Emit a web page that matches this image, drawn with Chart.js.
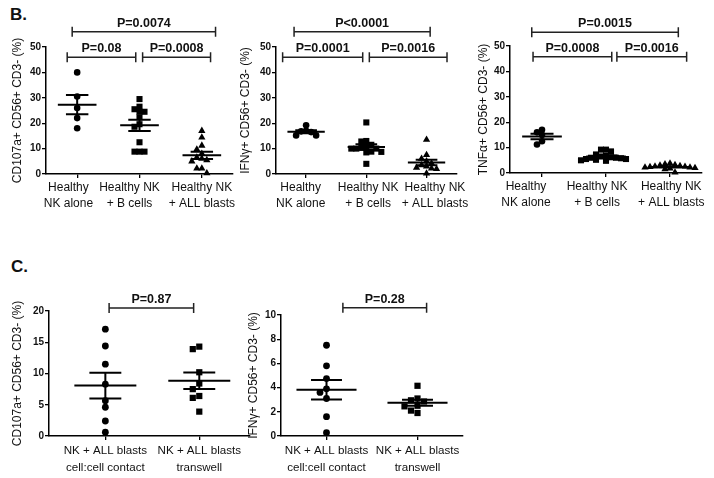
<!DOCTYPE html>
<html>
<head>
<meta charset="utf-8">
<script src="https://cdn.jsdelivr.net/npm/chart.js@4.4.0/dist/chart.umd.min.js"></script>
<style>
  body { margin: 0; background: #fff; }
  #wrap { position: relative; width: 714px; height: 478px; font-family: Arial, "Liberation Sans", sans-serif; }
  canvas { position: absolute; }
  .tag { position: absolute; font-weight: bold; font-size: 17px; color: #111; }
</style>
</head>
<body>
<div id="wrap">
  <div class="tag" style="left:10px;top:5px">B.</div>
  <div class="tag" style="left:11px;top:257px">C.</div>
  <canvas id="b1" width="238" height="215" style="left:0;top:0"></canvas>
  <canvas id="b2" width="236" height="215" style="left:236px;top:0"></canvas>
  <canvas id="b3" width="241" height="215" style="left:473px;top:0"></canvas>
  <canvas id="c1" width="256" height="248" style="left:0;top:230px"></canvas>
  <canvas id="c2" width="230" height="248" style="left:244px;top:230px"></canvas>
</div>
<script>
// categories
const groupsB = [["Healthy", "NK alone"], ["Healthy NK", "+ B cells"], ["Healthy NK", "+ ALL blasts"]];
const groupsC = [["NK + ALL blasts", "cell:cell contact"], ["NK + ALL blasts", "transwell"]];

// panel B, CD107a
const cd107aAlone = [40, 30.5, 26, 22, 18];
const cd107aBcells = [29.5, 24.5, 25.5, 26.5, 24.5, 22.3, 19.6, 18.6, 12.5, 8.8, 8.8, 8.8];
const cd107aBlasts = [17, 14.4, 11.2, 9.7, 8, 6.5, 6, 5.5, 5, 2.2, 2.2, 0.3];
const cd107aP = ["P=0.08", "P=0.0008", "P=0.0074"];

// panel B, IFN-gamma
const ifngAlone = [19.2, 17, 16.8, 16.5, 15.2, 15.2];
const ifngBcells = [20.3, 13, 12.8, 11.5, 10.5, 10, 10, 10, 10.3, 8.7, 8.5, 8.8, 4];
const ifngBlasts = [13.5, 7.5, 6, 5, 4.2, 3.5, 3, 2.5, 2.2, 2, 0.2];
const ifngP = ["P=0.0001", "P=0.0016", "P<0.0001"];

// panel B, TNF-alpha
const tnfaAlone = [16, 17, 15, 12.5, 11.2];
const tnfaBcells = [9.2, 9.2, 8.5, 7.3, 6.8, 6.5, 6.2, 6, 6, 5.8, 5.5, 5.5, 5.2, 5, 4.8];
const tnfaBlasts = [3.8, 3.5, 3.2, 3, 2.8, 2.6, 2.5, 2.4, 2.2, 2.2, 2, 1.8, 1.5, 0.2];
const tnfaP = ["P=0.0008", "P=0.0016", "P=0.0015"];

// panel C
const contactCd107a = [17.1, 14.4, 11.5, 8.3, 5.65, 4.6, 2.4, 0.6];
const transwellCd107a = [14.3, 13.9, 10.2, 8.4, 7.5, 6.4, 6.1, 3.9];
const cd107aTranswellP = ["P=0.87"];
const contactIfng = [7.5, 5.8, 4.75, 3.9, 3.6, 3.1, 1.6, 0.27];
const transwellIfng = [4.15, 3.1, 2.95, 2.85, 2.5, 2.45, 2.1, 1.9];
const ifngTranswellP = ["P=0.28"];

Chart.defaults.font.family = "Arial, 'Liberation Sans', sans-serif";
Chart.defaults.color = "#111";

const markerB = [{ shape: "circle", r: 3.3 }, { shape: "rect", r: 4.3 }, { shape: "triangle", r: 4.2 }];
const markerC = [{ shape: "circle", r: 3.4 }, { shape: "rect", r: 4.4 }];

// spread points sideways so they don't sit on top of each other
function swarm(gap) {
  return {
    id: "swarm",
    afterDatasetsUpdate(chart) {
      chart.data.datasets.forEach((ds, i) => {
        const pts = chart.getDatasetMeta(i).data.slice().sort((a, b) => a.y - b.y);
        const placed = [];
        pts.forEach((p) => {
          const cx = p.x;
          for (let k = 0; k < 60; k++) {
            const x = cx + Math.ceil(k / 2) * gap * (k % 2 ? -1 : 1);
            if (placed.every((q) => Math.hypot(q.x - x, q.y - p.y) >= gap)) {
              p.x = x;
              placed.push(p);
              break;
            }
          }
        });
      });
    },
  };
}

// mean line with SEM whiskers
function meanSem(meanHalf, capHalf) {
  return {
    id: "meanSem",
    afterDatasetsDraw(chart) {
      const { ctx } = chart;
      const xs = chart.scales.x, ys = chart.scales.y;
      chart.data.datasets.forEach((ds, i) => {
        const vals = ds.data.map((d) => d.y);
        const n = vals.length;
        const mean = vals.reduce((a, b) => a + b, 0) / n;
        const sd = Math.sqrt(vals.reduce((a, b) => a + (b - mean) ** 2, 0) / (n - 1));
        const sem = sd / Math.sqrt(n);
        const cx = xs.getPixelForValue(i + 1);
        const mh = xs.getPixelForValue(i + 1 + meanHalf) - cx;
        const ch = xs.getPixelForValue(i + 1 + capHalf) - cx;
        const ym = ys.getPixelForValue(mean);
        const yl = ys.getPixelForValue(mean - sem);
        const yh = ys.getPixelForValue(mean + sem);
        ctx.save();
        ctx.strokeStyle = "#000";
        ctx.lineWidth = 2;
        ctx.beginPath();
        ctx.moveTo(cx - mh, ym); ctx.lineTo(cx + mh, ym);
        ctx.moveTo(cx, yl); ctx.lineTo(cx, yh);
        ctx.moveTo(cx - ch, yl); ctx.lineTo(cx + ch, yl);
        ctx.moveTo(cx - ch, yh); ctx.lineTo(cx + ch, yh);
        ctx.stroke();
        ctx.restore();
      });
    },
  };
}

// significance brackets above the plot
function brackets(items) {
  return {
    id: "brackets",
    afterDraw(chart) {
      const { ctx } = chart;
      const xs = chart.scales.x, ys = chart.scales.y;
      items.forEach((b) => {
        const x1 = xs.getPixelForValue(b.from);
        const x2 = xs.getPixelForValue(b.to);
        const y = ys.getPixelForValue(b.level);
        ctx.save();
        ctx.strokeStyle = "#222";
        ctx.lineWidth = 1.5;
        ctx.beginPath();
        ctx.moveTo(x1, y); ctx.lineTo(x2, y);
        ctx.moveTo(x1, y - 5); ctx.lineTo(x1, y + 5);
        ctx.moveTo(x2, y - 5); ctx.lineTo(x2, y + 5);
        ctx.stroke();
        ctx.fillStyle = "#111";
        ctx.font = "bold 12.5px Arial, 'Liberation Sans', sans-serif";
        ctx.textAlign = "center";
        ctx.textBaseline = "bottom";
        ctx.fillText(b.text, (x1 + x2) / 2, y - 2);
        ctx.restore();
      });
    },
  };
}

function dotPlot(id, groups, series, markers, cfg) {
  const datasets = series.map((vals, i) => ({
    data: vals.map((v) => ({ x: i + 1, y: v })),
    pointStyle: markers[i].shape,
    pointRadius: markers[i].r,
    pointHoverRadius: markers[i].r,
    backgroundColor: "#000",
    borderColor: "#000",
    borderWidth: 0,
    clip: false,
  }));

  return new Chart(document.getElementById(id), {
    type: "scatter",
    data: { datasets },
    options: {
      responsive: false,
      animation: false,
      events: [],
      layout: { padding: { left: 0, top: cfg.top, right: cfg.right, bottom: 0 } },
      plugins: { legend: { display: false }, tooltip: { enabled: false } },
      scales: {
        // axis line and tick marks at each group
        x: {
          type: "linear",
          position: "bottom",
          weight: 0,
          min: cfg.xMin,
          max: cfg.xMax,
          afterBuildTicks: (s) => { s.ticks = groups.map((g, i) => ({ value: i + 1 })); },
          afterFit: (s) => { s.height = 4; },
          ticks: { display: false },
          grid: { display: true, drawOnChartArea: false, tickLength: 4, color: "#000", lineWidth: 1.3 },
          border: { display: true, color: "#000", width: 1.5 },
        },
        // group names, placed where the original figure puts them
        xl: {
          type: "linear",
          position: "bottom",
          weight: 1,
          min: cfg.xMin,
          max: cfg.xMax,
          afterBuildTicks: (s) => { s.ticks = groups.map((g, i) => ({ value: i + 1 + cfg.labelShift[i] })); },
          afterFit: (s) => { s.height = cfg.xHeight - 4; },
          ticks: {
            callback: (v, i) => groups[i],
            color: "#111",
            font: { size: cfg.xFont, lineHeight: cfg.xLine },
            padding: cfg.xPad,
            maxRotation: 0,
            autoSkip: false,
          },
          grid: { display: false, drawTicks: false },
          border: { display: false },
        },
        y: {
          min: 0,
          max: cfg.yMax,
          afterFit: (s) => { s.width = cfg.yWidth; },
          ticks: { stepSize: cfg.step, color: "#111", font: { size: 10, weight: "bold" }, padding: 1 },
          grid: { display: true, drawOnChartArea: false, tickLength: 4, color: "#000", lineWidth: 1.3 },
          border: { display: true, color: "#000", width: 1.5 },
          title: {
            display: true,
            text: cfg.title,
            color: "#111",
            font: { size: 12 },
            padding: { top: cfg.titlePad, bottom: 0 },
          },
        },
      },
    },
    plugins: [swarm(cfg.gap), meanSem(cfg.meanHalf, cfg.capHalf), brackets(cfg.brackets)],
  });
}

const baseB = { xMin: 0.5, xMax: 3.5, yMax: 50, step: 10, xHeight: 41, xFont: 12, xLine: 1.33, xPad: 2, gap: 5, meanHalf: 0.31, capHalf: 0.18 };
const baseC = { yMax: 20, step: 5, xHeight: 42, xFont: 11.6, xLine: 1.42, xPad: 3, gap: 6.5, meanHalf: 0.33, capHalf: 0.17, labelShift: [0, 0] };

dotPlot("b1", groupsB, [cd107aAlone, cd107aBcells, cd107aBlasts], markerB, {
  ...baseB, top: 47, right: 5, yWidth: 46, titlePad: 10, title: "CD107a+ CD56+ CD3- (%)",
  labelShift: [-0.14, -0.16, 0],
  brackets: [
    { from: 0.84, to: 1.94, level: 46, text: cd107aP[0] },
    { from: 2.05, to: 3.14, level: 46, text: cd107aP[1] },
    { from: 0.92, to: 3.22, level: 56, text: cd107aP[2] },
  ],
});

dotPlot("b2", groupsB, [ifngAlone, ifngBcells, ifngBlasts], markerB, {
  ...baseB, top: 47, right: 4, yWidth: 40, titlePad: 2, title: "IFNγ+ CD56+ CD3- (%)",
  labelShift: [-0.09, 0.03, 0.14],
  brackets: [
    { from: 0.61, to: 1.94, level: 46, text: ifngP[0] },
    { from: 2.05, to: 3.34, level: 46, text: ifngP[1] },
    { from: 0.8, to: 3.06, level: 56, text: ifngP[2] },
  ],
});

dotPlot("b3", groupsB, [tnfaAlone, tnfaBcells, tnfaBlasts], markerB, {
  ...baseB, top: 46, right: 12, yWidth: 37, xHeight: 42, titlePad: 3, title: "TNFα+ CD56+ CD3- (%)",
  labelShift: [-0.25, -0.14, 0.02],
  brackets: [
    { from: 0.86, to: 2.09, level: 45.8, text: tnfaP[0] },
    { from: 2.17, to: 3.26, level: 45.8, text: tnfaP[1] },
    { from: 0.84, to: 3.13, level: 55.4, text: tnfaP[2] },
  ],
});

dotPlot("c1", groupsC, [contactCd107a, transwellCd107a], markerC, {
  ...baseC, xMin: 0.4, xMax: 2.54, top: 81, right: 6, yWidth: 49, titlePad: 10, title: "CD107a+ CD56+ CD3- (%)",
  brackets: [{ from: 1.04, to: 1.94, level: 20.5, text: cd107aTranswellP[0] }],
});

dotPlot("c2", groupsC, [contactIfng, transwellIfng], markerC, {
  ...baseC, xMin: 0.5, xMax: 2.5, yMax: 10, step: 2, top: 85, right: 11, yWidth: 37, titlePad: 2, title: "IFNγ+ CD56+ CD3- (%)",
  brackets: [{ from: 1.18, to: 2.1, level: 10.6, text: ifngTranswellP[0] }],
});
</script>
</body>
</html>
